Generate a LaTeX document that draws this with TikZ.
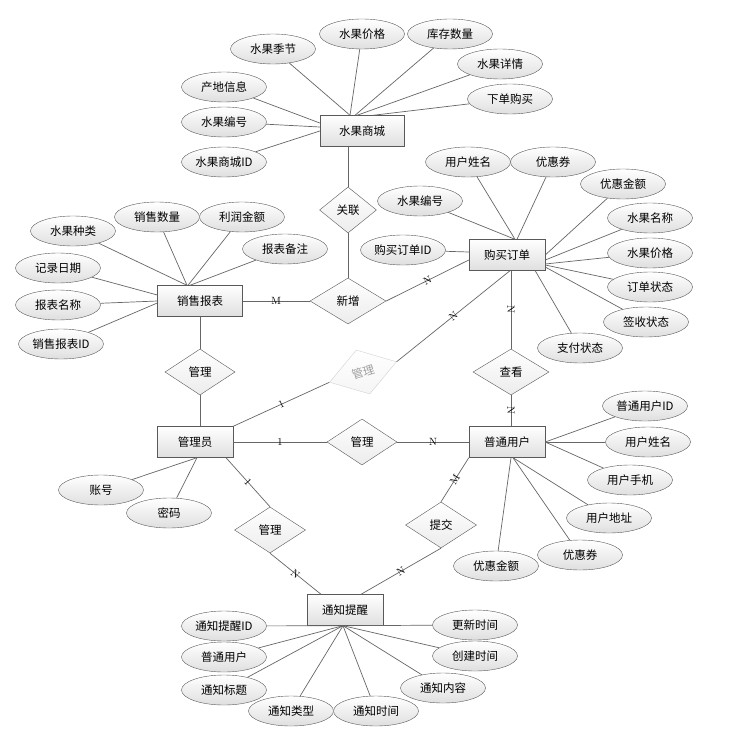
\documentclass[tikz,border=0pt]{standalone}
\usepackage{fontspec}
\newfontfamily\cjk{Noto Sans CJK SC}
\usetikzlibrary{shapes.geometric}

\tikzset{
  entity/.style={draw=gray!70!black, top color=white, bottom color=gray!25,
    minimum width=76pt, minimum height=31pt, inner sep=0pt},
  attr/.style={ellipse, draw=gray!70!black, top color=white, bottom color=gray!25,
    minimum width=85pt, minimum height=30pt, inner sep=0pt},
  rel/.style={diamond, draw=gray!70!black, top color=white, bottom color=gray!15,
    minimum width=71pt, minimum height=46pt, inner sep=0pt},
  link/.style={draw=black!60, line width=0.7pt},
  card/.style={font=\fontsize{10.5}{10.5}\selectfont, sloped, inner sep=1pt}
}

\begin{document}
\begin{tikzpicture}[x=1pt, y=-1pt, font={\cjk\fontsize{11.5}{13}\selectfont}]
    \fill[white] (0,0) rectangle (731,735);
    \useasboundingbox (0,0) rectangle (731,735);

    % Entities
    \node[entity, minimum width=84pt] (shop) at (362,131) {水果商城};
    \node[entity, minimum width=85pt] (sales) at (200,301) {销售报表};
    \node[entity] (order) at (507,255) {购买订单};
    \node[entity] (admin) at (195,442) {管理员};
    \node[entity] (user) at (507,442) {普通用户};
    \node[entity] (notice) at (345,610) {通知提醒};

    % Relations
    \node[rel, minimum width=57pt] (rel1) at (348,210) {关联};
    \node[rel, minimum width=76pt] (add) at (348,301) {新增};
    \node[rel, minimum width=70pt] (mg1) at (200,372) {管理};
    \node[rel, minimum width=76pt] (see) at (511,372) {查看};
    \node[rel, minimum width=70pt] (mg2) at (362,442) {管理};
    \node[rel, minimum width=71pt] (mg3) at (270,530) {管理};
    \node[rel] (sub) at (441,525) {提交};
    \node[rel, minimum width=70pt, rotate=17, draw=gray!35, text=gray!75,
      bottom color=gray!8] (fade) at (363,372) {管理};

    % Attributes
    \foreach \n/\x/\y/\t in {s1/273/49/水果季节, s2/362/34/水果价格, s3/450/34/库存数量,
        s4/500/64/水果详情, s5/510/99/下单购买, s6/224/87/产地信息, s7/224/122/水果编号,
        s8/224/162/水果商城ID,
        r1/73/231/水果种类, r2/157/217/销售数量, r3/242/217/利润金额, r4/285/249/报表备注,
        r5/58/268/记录日期, r6/58/305/报表名称, r7/61/344/销售报表ID,
        o1/468/162/用户姓名, o2/553/162/优惠券, o3/420/201/水果编号, o4/403/250/购买订单ID,
        o5/623/184/优惠金额, o6/650/218/水果名称, o7/650/253/水果价格, o8/650/287/订单状态,
        o9/646/322/签收状态, o10/580/348/支付状态,
        a1/101/490/账号, a2/169/513/密码,
        u1/645/406/普通用户ID, u2/648/442/用户姓名, u3/630/480/用户手机, u4/609/518/用户地址,
        u5/580/555/优惠券, u6/496/566/优惠金额,
        n1/224/626/通知提醒ID, n2/224/657/普通用户, n3/224/690/通知标题, n4/291/711/通知类型,
        n5/376/711/通知时间, n6/443/688/通知内容, n7/475/656/创建时间, n8/475/625/更新时间}
      \node[attr] (\n) at (\x,\y) {\t};

    % Attribute links
    \foreach \n/\dx in {s1/-12, s2/-12, s3/-7, s4/-5, s5/11}
      \draw[link] ([xshift=\dx pt]shop.north) -- (\n);
    \foreach \n/\dy in {s6/8, s7/4, s8/0}
      \draw[link] ([yshift=\dy pt]shop.west) -- (\n);
    \foreach \n/\dx in {r1/-13, r2/-13, r3/-12, r4/-10}
      \draw[link] ([xshift=\dx pt]sales.north) -- (\n);
    \foreach \n/\dy in {r5/6, r6/0, r7/-2}
      \draw[link] ([yshift=\dy pt]sales.west) -- (\n);
    \foreach \n/\dx in {o1/8, o2/10, o3/8}
      \draw[link] ([xshift=\dx pt]order.north) -- (\n);
    \draw[link] ([yshift=3pt]order.west) -- (o4);
    \foreach \n/\dy in {o5/0, o6/-5, o7/-9, o8/-10, o9/-12}
      \draw[link] ([yshift=\dy pt]order.east) -- (\n);
    \draw[link] ([xshift=-10pt]order.south east) -- (o10);
    \foreach \n in {a1, a2}
      \draw[link] ([xshift=2pt]admin.south) -- (\n);
    \foreach \n in {u1, u2, u3}
      \draw[link] (user.east) -- (\n);
    \foreach \n/\dx in {u4/6, u5/6, u6/4}
      \draw[link] ([xshift=\dx pt]user.south) -- (\n);
    \foreach \n in {n1, n2, n3, n4, n5, n6, n7, n8}
      \draw[link] ([xshift=-2pt]notice.south) -- (\n);

    % Relation links
    \draw[link] (rel1.north) -- (rel1.north |- shop.south);
    \draw[link] (rel1.south) -- (add.north);
    \draw[link] (sales.east) -- node[card] {M} (add.west);
    \draw[link] (add.east) -- node[card] {N} ([yshift=-5pt]order.west);
    \draw[link] (see.north |- order.south) -- node[card] {N} (see.north);
    \draw[link] (see.south) -- node[card] {N} (see.south |- user.north);
    \draw[link] (sales.south) -- (mg1.north);
    \draw[link] (mg1.south) -- (mg1.south |- admin.north);
    \draw[link] (admin.north east) -- node[card] {1} (fade.west);
    \draw[link] (fade.east) -- node[card] {N} ([xshift=3pt]order.south);
    \draw[link] (admin.east) -- node[card] {1} (mg2.west);
    \draw[link] (mg2.east) -- node[card] {N} (user.west);
    \draw[link] ([xshift=31pt]admin.south) -- node[card] {1} (mg3.north);
    \draw[link] (mg3.south) -- node[card] {N} ([xshift=-24pt]notice.north);
    \draw[link] (user.south west) -- node[card] {M} (sub.north);
    \draw[link] (sub.south) -- node[card] {N} ([xshift=16pt]notice.north);
\end{tikzpicture}
\end{document}
